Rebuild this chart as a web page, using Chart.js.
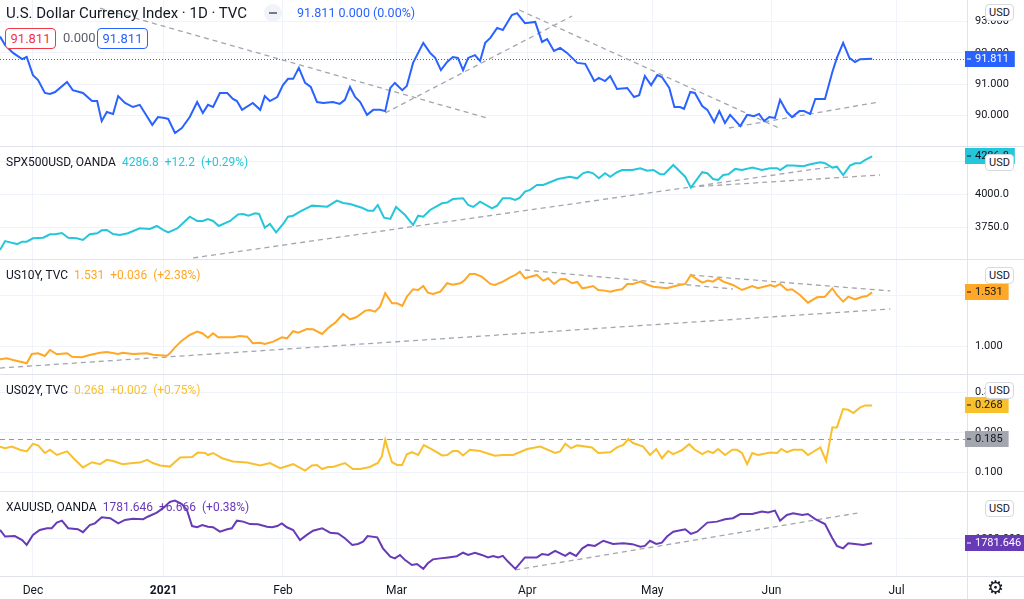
<!DOCTYPE html>
<html>
<head>
<meta charset="utf-8">
<script src="https://cdn.jsdelivr.net/npm/chart.js@4.4.1/dist/chart.umd.min.js"></script>
<style>
    html, body { margin: 0; padding: 0; background: #fff; }
    body { width: 1024px; height: 599px; position: relative; overflow: hidden; font-family: Roboto, "Noto Sans", sans-serif; color: #131722; }
    .pane { position: absolute; left: 0; width: 1024px; z-index: 1; }
    .sep { position: absolute; left: 0; width: 1024px; height: 1px; background: #e0e3eb; z-index: 0; }
    .vsep { position: absolute; left: 967px; top: 0; width: 1px; height: 599px; background: #e0e3eb; z-index: 0; }
    .legend { position: absolute; left: 6px; font-size: 12px; line-height: 16px; white-space: nowrap; z-index: 2; }
    .legend span { margin-left: 6px; }
    .usd { position: absolute; left: 985px; width: 27px; height: 15px; border: 1px solid #d6d9e0; border-radius: 4px; background: #fff; font-size: 11px; line-height: 15px; text-align: center; z-index: 2; }
    .box { position: absolute; top: 28px; height: 19px; width: 49px; border: 1px solid; border-radius: 4px; background: #fff; font-size: 13px; line-height: 19px; text-align: center; z-index: 2; }
    .btn { position: absolute; left: 264px; top: 4px; width: 18px; height: 18px; border-radius: 50%; background: #f0f3fa; z-index: 2; }
    .btn i { position: absolute; left: 5px; top: 8px; width: 8px; height: 2px; background: #787b86; }
    .gear { position: absolute; left: 987px; top: 577px; font-size: 19px; line-height: 20px; font-family: "DejaVu Sans", sans-serif; z-index: 2; }
</style>
</head>
<body>
<div class="vsep"></div>
<div class="sep" style="top:146px"></div>
<div class="sep" style="top:259px"></div>
<div class="sep" style="top:374px"></div>
<div class="sep" style="top:491px"></div>
<div class="sep" style="top:576px"></div>

<div class="pane" style="top:0;height:146px"><canvas id="dxyChart"></canvas></div>
<div class="pane" style="top:147px;height:112px"><canvas id="spxChart"></canvas></div>
<div class="pane" style="top:260px;height:114px"><canvas id="tnxChart"></canvas></div>
<div class="pane" style="top:375px;height:116px"><canvas id="twoChart"></canvas></div>
<div class="pane" style="top:492px;height:107px"><canvas id="xauChart"></canvas></div>

<div class="legend" style="top:4px;font-size:15px;line-height:18px">U.S. Dollar Currency Index · 1D · TVC</div>
<div class="btn"><i></i></div>
<div class="legend" style="left:297px;top:5px;font-size:12.5px;color:#2962ff">91.811 0.000 (0.00%)</div>
<div class="box" style="left:5px;border-color:#f23645;color:#f23645">91.811</div>
<div class="legend" style="left:63px;top:30px;font-size:13px;color:#5d606b">0.000</div>
<div class="box" style="left:97px;border-color:#2962ff;color:#2962ff">91.811</div>
<div class="usd" style="top:4px">USD</div>

<div class="legend" style="top:154px">SPX500USD, OANDA<span style="color:#26c6da">4286.8</span><span style="color:#26c6da">+12.2</span><span style="color:#26c6da">(+0.29%)</span></div>
<div class="usd" style="top:154px">USD</div>

<div class="legend" style="top:267px">US10Y, TVC<span style="color:#ffa726">1.531</span><span style="color:#ffa726">+0.036</span><span style="color:#ffa726">(+2.38%)</span></div>
<div class="usd" style="top:267px">USD</div>

<div class="legend" style="top:382px">US02Y, TVC<span style="color:#f9c02e">0.268</span><span style="color:#f9c02e">+0.002</span><span style="color:#f9c02e">(+0.75%)</span></div>
<div class="usd" style="top:382px">USD</div>

<div class="legend" style="top:499px">XAUUSD, OANDA<span style="color:#673ab7">1781.646</span><span style="color:#673ab7">+6.666</span><span style="color:#673ab7">(+0.38%)</span></div>
<div class="usd" style="top:500px">USD</div>

<div class="gear">⚙</div>

<script>
// бары считаются торговыми днями от 1 декабря 2020
const monthBars = [0, 23, 44, 64, 87, 109, 130, 152];
const monthLabels = ["Dec", "2021", "Feb", "Mar", "Apr", "May", "Jun", "Jul"];

const dxySeries = [[-5.8,92.52],[-4.9,92.25],[-3.5,92.00],[-1.9,91.80],[-1.1,91.87],[0,91.29],[0.9,91.13],[2.1,90.72],[3.0,90.69],[3.9,90.75],[6.0,91.07],[7.0,90.81],[8.8,90.72],[10.4,90.46],[11.3,90.46],[12.1,89.82],[13.0,90.11],[14.1,90.05],[15.0,90.62],[16.2,90.40],[17.6,90.27],[18.8,90.34],[21.0,89.70],[22.0,89.95],[23.2,89.92],[23.8,89.89],[25.0,89.44],[26.2,89.60],[27.6,89.95],[28.9,90.43],[29.9,90.08],[30.8,90.34],[31.7,90.27],[32.9,90.72],[34.2,90.72],[35.2,90.53],[35.9,90.46],[36.8,90.18],[38.7,90.40],[40.0,90.18],[40.8,90.62],[41.7,90.46],[43.0,90.59],[44.0,90.97],[44.9,91.17],[45.8,91.17],[46.8,91.52],[47.9,91.04],[48.9,90.91],[50.0,90.43],[51.1,90.40],[52.8,90.43],[54.0,90.37],[54.9,90.50],[55.8,90.91],[56.7,90.59],[57.6,90.43],[58.8,90.02],[59.9,90.18],[61.1,90.18],[62.0,90.14],[62.9,90.88],[63.7,91.04],[65.0,90.81],[65.8,90.94],[66.9,91.68],[68.7,92.32],[69.9,92.00],[70.8,91.84],[71.8,91.45],[72.9,91.71],[73.9,91.87],[74.8,91.84],[75.7,91.45],[76.6,91.84],[77.8,91.93],[78.7,91.74],[79.6,92.32],[80.5,92.48],[81.7,92.80],[82.7,92.73],[84.3,93.21],[85.2,93.27],[86.6,92.95],[88.4,92.99],[89.6,92.35],[90.5,92.44],[91.7,92.06],[92.8,92.16],[94.0,92.00],[95.8,91.68],[97.2,91.65],[98.8,91.10],[99.6,91.20],[100.7,91.10],[101.6,91.26],[102.8,90.85],[104.6,90.88],[105.8,90.59],[106.7,90.65],[107.7,91.26],[108.8,90.97],[109.9,91.29],[110.7,91.23],[112.0,90.88],[112.9,90.27],[113.9,90.27],[114.6,90.21],[115.7,90.75],[116.5,90.72],[117.8,90.30],[118.7,90.18],[119.9,89.79],[120.8,90.14],[121.8,89.76],[122.7,90.02],[124.5,89.66],[125.7,90.02],[126.9,89.98],[127.8,90.05],[128.7,89.82],[129.6,89.95],[130.6,89.92],[131.5,90.50],[132.7,90.11],[133.6,89.95],[134.9,90.14],[135.7,90.14],[136.8,90.05],[137.7,90.53],[139.4,90.53],[140.7,91.39],[141.5,91.84],[142.6,92.32],[143.7,91.84],[144.7,91.71],[145.6,91.80],[147.7,91.811]];
const dxyTrends = [
    [[11.8,93.43],[79.9,89.92]],
    [[62.0,90.08],[94.9,93.18]],
    [[85.6,93.37],[131.3,89.60]],
    [[122.5,89.60],[148.9,90.43]],
];
const dxyTicks = [90, 91, 92, 93];

const spxSeries = [[-5.8,3578],[-4.9,3646],[-4.0,3636],[-2.8,3623],[-1.9,3641],[-1.1,3641],[0,3667],[1.8,3671],[3.0,3697],[3.9,3697],[5.1,3707],[6.2,3671],[7.7,3667],[8.8,3654],[10.0,3697],[11.3,3705],[12.1,3727],[13.0,3730],[14.1,3699],[15.3,3692],[16.7,3705],[18.8,3742],[20.6,3737],[21.8,3760],[22.9,3730],[23.8,3712],[25.4,3742],[27.6,3830],[28.9,3798],[29.9,3798],[30.8,3813],[31.7,3798],[32.7,3760],[34.7,3798],[36.1,3848],[37.0,3851],[37.9,3838],[39.1,3856],[39.8,3851],[40.8,3747],[41.7,3775],[42.8,3712],[44.0,3773],[44.9,3830],[45.8,3838],[47.0,3868],[49.1,3914],[51.8,3906],[53.5,3952],[54.6,3934],[55.8,3927],[57.9,3898],[59.0,3876],[59.9,3876],[60.7,3919],[61.8,3823],[62.9,3813],[63.9,3904],[65.5,3843],[66.9,3767],[67.8,3838],[68.7,3830],[69.9,3881],[72.0,3932],[72.9,3937],[73.9,3964],[75.7,3970],[76.6,3919],[77.5,3904],[78.7,3944],[80.8,3894],[81.7,3914],[82.7,3970],[84.0,3970],[84.9,3957],[85.7,3974],[86.6,4020],[87.5,4033],[88.7,4070],[89.8,4070],[91.0,4091],[92.4,4116],[94.5,4133],[95.8,4121],[96.8,4159],[97.7,4171],[98.6,4159],[99.6,4121],[100.7,4159],[101.6,4133],[102.8,4167],[103.7,4184],[105.5,4184],[106.9,4197],[108.1,4179],[109.2,4184],[110.4,4152],[111.1,4152],[112.7,4222],[114.8,4133],[115.8,4050],[117.8,4167],[118.7,4159],[119.7,4116],[120.6,4108],[121.5,4146],[122.4,4152],[123.6,4192],[124.8,4184],[126.6,4202],[128.3,4184],[129.7,4197],[131.0,4197],[131.5,4184],[132.7,4217],[133.8,4217],[135.6,4212],[136.8,4227],[138.6,4242],[139.4,4235],[140.7,4202],[141.5,4209],[142.6,4146],[143.8,4217],[144.7,4235],[145.6,4235],[146.5,4260],[147.7,4286.8]];
const spxTrends = [
    [[28.2,3518],[115.7,4055]],
    [[115.7,4055],[149.1,4146]],
    [[115.7,4055],[140.3,4207]],
];
const spxTicks = [3750, 4000, 4250];

const tnxSeries = [[-5.8,0.868],[-4.6,0.878],[-3.5,0.861],[-1.1,0.829],[-0.2,0.921],[0.9,0.928],[2.1,0.901],[3.0,0.961],[4.2,0.918],[6.0,0.928],[6.9,0.894],[8.6,0.888],[10.0,0.911],[11.8,0.934],[13.0,0.941],[15.0,0.921],[15.8,0.934],[17.6,0.921],[20.1,0.928],[21.1,0.914],[23.6,0.904],[24.1,0.928],[25.0,0.987],[26.2,1.053],[27.6,1.109],[28.9,1.142],[29.8,1.126],[30.8,1.082],[31.7,1.126],[32.6,1.086],[35.2,1.086],[36.4,1.099],[37.7,1.092],[38.7,1.027],[40.0,1.033],[40.8,1.020],[42.3,1.043],[43.8,1.086],[44.7,1.076],[45.8,1.146],[46.7,1.132],[48.2,1.168],[49.3,1.165],[50.9,1.119],[51.9,1.175],[53.2,1.231],[54.6,1.317],[55.8,1.264],[56.9,1.284],[58.5,1.350],[59.3,1.356],[60.2,1.340],[61.1,1.389],[62.0,1.522],[63.2,1.423],[64.1,1.423],[65.0,1.396],[65.8,1.488],[66.9,1.561],[67.8,1.554],[68.7,1.594],[69.5,1.528],[70.4,1.515],[71.7,1.538],[72.9,1.621],[73.9,1.607],[75.2,1.621],[76.0,1.653],[76.9,1.713],[77.8,1.713],[79.0,1.686],[80.5,1.614],[81.3,1.604],[82.7,1.637],[84.0,1.680],[84.9,1.703],[85.7,1.736],[86.6,1.670],[88.7,1.703],[89.8,1.647],[90.7,1.670],[91.7,1.614],[92.8,1.660],[93.7,1.663],[94.9,1.621],[95.8,1.634],[96.7,1.571],[97.7,1.581],[98.6,1.594],[99.5,1.554],[100.7,1.548],[101.6,1.538],[102.8,1.554],[103.7,1.561],[104.6,1.614],[105.6,1.614],[106.9,1.637],[108.3,1.604],[109.2,1.587],[111.6,1.571],[113.0,1.594],[114.8,1.614],[115.8,1.703],[116.9,1.660],[117.8,1.627],[118.8,1.647],[119.7,1.637],[120.6,1.670],[121.5,1.637],[123.2,1.604],[124.8,1.554],[126.6,1.594],[127.6,1.571],[129.8,1.604],[130.6,1.587],[131.5,1.614],[132.7,1.554],[133.6,1.561],[135.0,1.505],[136.4,1.429],[138.0,1.482],[139.4,1.488],[140.7,1.571],[141.5,1.505],[142.6,1.439],[143.5,1.488],[144.7,1.462],[146.0,1.488],[146.8,1.495],[147.7,1.531]];
const tnxTrends = [
    [[-5.8,0.782],[150.9,1.366]],
    [[86.6,1.752],[123.2,1.564]],
    [[115.7,1.703],[150.9,1.545]],
];
const tnxTicks = [1.0, 1.5];

const twoSeries = [[-5.8,0.165],[-4.9,0.161],[-3.7,0.165],[-2.3,0.157],[-1.1,0.153],[0,0.172],[0.9,0.168],[2.1,0.149],[3.0,0.157],[4.2,0.144],[6.0,0.153],[7.4,0.132],[8.8,0.113],[10.4,0.126],[11.8,0.121],[13.0,0.132],[14.1,0.129],[15.8,0.121],[17.6,0.124],[18.8,0.125],[20.1,0.132],[21.1,0.124],[22.4,0.118],[24.1,0.115],[25.9,0.138],[28.0,0.139],[29.0,0.150],[30.3,0.149],[30.8,0.144],[31.7,0.149],[33.3,0.136],[35.2,0.128],[37.7,0.125],[40.0,0.118],[41.7,0.124],[43.5,0.111],[45.8,0.121],[47.9,0.105],[49.1,0.118],[50.0,0.119],[50.9,0.109],[51.9,0.114],[52.8,0.114],[54.9,0.124],[56.3,0.109],[57.6,0.109],[59.3,0.114],[60.7,0.124],[61.4,0.140],[62.0,0.182],[62.5,0.157],[63.2,0.126],[64.1,0.119],[65.0,0.119],[65.8,0.146],[66.7,0.151],[67.8,0.144],[68.8,0.169],[70.4,0.157],[72.0,0.143],[72.9,0.144],[73.9,0.154],[74.8,0.154],[75.7,0.143],[76.9,0.157],[78.7,0.154],[81.3,0.142],[82.7,0.144],[84.5,0.144],[87.0,0.159],[89.3,0.165],[91.9,0.149],[92.8,0.153],[93.7,0.172],[94.7,0.161],[95.8,0.168],[98.4,0.163],[99.5,0.149],[101.6,0.151],[102.8,0.163],[103.9,0.169],[104.8,0.184],[105.6,0.174],[107.4,0.165],[108.6,0.144],[109.7,0.159],[110.7,0.136],[111.8,0.154],[112.7,0.146],[114.3,0.157],[115.5,0.171],[116.5,0.157],[117.8,0.146],[118.8,0.154],[119.7,0.149],[120.6,0.159],[121.8,0.144],[123.1,0.157],[123.9,0.157],[124.8,0.149],[125.7,0.121],[126.6,0.149],[127.6,0.144],[129.8,0.150],[131.0,0.149],[131.7,0.159],[132.7,0.151],[133.8,0.157],[135.4,0.157],[136.4,0.144],[138.6,0.163],[139.6,0.129],[140.7,0.213],[141.5,0.213],[142.6,0.259],[143.5,0.257],[144.4,0.249],[145.6,0.263],[146.5,0.268],[147.7,0.268]];
const twoLevel = 0.185;
const twoTicks = [0.1, 0.2, 0.3];

const xauSeries = [[-5.8,1836],[-4.9,1809],[-3.2,1811],[-1.9,1795],[-1.1,1775],[0,1816],[1.2,1836],[2.5,1843],[3.3,1843],[4.2,1866],[5.1,1874],[6.2,1843],[7.9,1839],[8.8,1827],[10.0,1856],[10.9,1863],[12.1,1888],[13.6,1884],[15.0,1863],[16.2,1877],[17.6,1882],[19.4,1880],[20.2,1890],[21.8,1907],[22.9,1925],[24.1,1951],[25.0,1956],[26.2,1942],[27.1,1918],[28.0,1852],[28.9,1847],[29.8,1856],[30.8,1849],[31.7,1847],[32.9,1829],[34.2,1839],[35.0,1843],[35.9,1874],[37.0,1870],[38.2,1860],[39.6,1859],[41.2,1849],[42.1,1847],[43.0,1852],[43.8,1863],[44.7,1847],[45.8,1836],[47.0,1795],[48.2,1816],[49.3,1833],[50.9,1843],[52.3,1825],[53.7,1822],[54.9,1802],[56.2,1775],[57.2,1779],[58.1,1788],[58.9,1811],[60.6,1806],[61.6,1761],[62.9,1727],[63.7,1720],[64.6,1734],[65.5,1713],[66.7,1693],[67.6,1697],[68.7,1677],[69.5,1700],[70.4,1716],[71.7,1720],[73.1,1724],[74.6,1729],[75.7,1743],[76.6,1734],[77.8,1743],[79.0,1734],[80.1,1724],[81.0,1730],[81.9,1724],[82.7,1730],[83.6,1707],[84.9,1677],[86.6,1724],[88.7,1724],[89.6,1738],[90.7,1734],[91.9,1751],[93.7,1730],[94.5,1743],[95.6,1730],[96.7,1761],[97.7,1775],[98.9,1771],[100.4,1792],[102.1,1779],[103.9,1782],[105.5,1778],[106.9,1768],[107.7,1771],[108.6,1792],[109.7,1779],[110.7,1784],[111.6,1809],[112.7,1829],[114.8,1839],[115.8,1820],[116.9,1829],[118.7,1866],[120.4,1870],[121.8,1880],[123.2,1884],[124.5,1901],[126.6,1901],[128.3,1911],[129.4,1907],[130.6,1915],[131.5,1874],[132.7,1897],[133.8,1904],[135.4,1897],[136.4,1901],[137.7,1880],[139.4,1860],[140.7,1802],[141.5,1771],[142.6,1761],[143.5,1782],[144.7,1779],[146.1,1775],[147.7,1781.646]];
const xauTrends = [
    [[84.9,1673],[145.1,1905]],
];
const xauTicks = [1800];

const FONT = 'Roboto, "Noto Sans", sans-serif';
const GRID = "#f0f3fa";
const TREND = "#a3a6af";
Chart.defaults.font.family = FONT;
Chart.defaults.color = "#131722";

const last = (s) => s[s.length - 1][1];

// ценовые метки на правой шкале и горизонтальные линии уровня
const priceTags = {
    id: "priceTags",
    beforeDatasetsDraw(chart, args, opts) {
        const { ctx, chartArea, scales } = chart;
        (opts.lines || []).forEach((l) => {
            const py = Math.round(scales.y.getPixelForValue(l.value)) + 0.5;
            ctx.save();
            ctx.strokeStyle = l.color;
            ctx.lineWidth = 1;
            ctx.setLineDash(l.dash);
            ctx.beginPath();
            ctx.moveTo(chartArea.left, py);
            ctx.lineTo(chartArea.right, py);
            ctx.stroke();
            ctx.restore();
        });
    },
    afterDraw(chart, args, opts) {
        const { ctx, chartArea, scales } = chart;
        (opts.tags || []).forEach((t) => {
            const py = Math.round(scales.y.getPixelForValue(t.value));
            const text = t.value.toFixed(t.dec);
            ctx.save();
            ctx.font = "11px " + FONT;
            const w = ctx.measureText(text).width;
            ctx.fillStyle = t.bg;
            ctx.fillRect(chartArea.right - 2, py - 8, w + 16, 16);
            ctx.fillStyle = t.fg;
            ctx.fillRect(chartArea.right, py - 0.5, 4, 1);
            ctx.textBaseline = "middle";
            ctx.fillText(text, chartArea.right + 8, py);
            ctx.restore();
        });
    },
};

function makePane(id, cfg) {
    const datasets = [
        {
            data: cfg.series,
            borderColor: cfg.color,
            borderWidth: 2,
            pointRadius: 0,
            tension: 0,
        },
    ];
    cfg.trends.forEach((t) => {
        datasets.push({
            data: t,
            borderColor: TREND,
            borderWidth: 1.3,
            borderDash: [5, 4],
            pointRadius: 0,
        });
    });

    return new Chart(document.getElementById(id), {
        type: "line",
        data: { datasets: datasets },
        options: {
            responsive: true,
            maintainAspectRatio: false,
            animation: false,
            events: [],
            layout: { padding: 0, autoPadding: false },
            plugins: {
                legend: { display: false },
                tooltip: { enabled: false },
                priceTags: { lines: cfg.lines || [], tags: cfg.tags || [] },
            },
            scales: {
                x: {
                    type: "linear",
                    min: -5.8,
                    max: 164.4,
                    afterBuildTicks: (s) => {
                        s.ticks = monthBars.map((v) => ({ value: v }));
                    },
                    afterFit: (s) => {
                        s.height = cfg.timeAxis ? 23 : 0;
                        s.paddingLeft = 0;
                        s.paddingRight = 0;
                    },
                    ticks: {
                        display: !!cfg.timeAxis,
                        autoSkip: false,
                        maxRotation: 0,
                        padding: 8,
                        color: "#131722",
                        font: (c) => ({
                            size: 12,
                            weight: c.tick && c.tick.label === "2021" ? "bold" : "normal",
                        }),
                        callback: (v) => monthLabels[monthBars.indexOf(v)],
                    },
                    grid: { color: GRID, drawTicks: false },
                    border: { display: false },
                },
                y: {
                    position: "right",
                    min: cfg.min,
                    max: cfg.max,
                    afterBuildTicks: (s) => {
                        s.ticks = cfg.ticks.map((v) => ({ value: v }));
                    },
                    afterFit: (s) => {
                        s.width = 57;
                        s.paddingTop = 0;
                        s.paddingBottom = 0;
                    },
                    ticks: {
                        padding: 8,
                        color: "#131722",
                        font: { size: 11 },
                        callback: (v) => Number(v).toFixed(cfg.dec),
                    },
                    grid: { color: GRID, drawTicks: false },
                    border: { display: false },
                },
            },
        },
        plugins: [priceTags],
    });
}

makePane("dxyChart", {
    series: dxySeries, trends: dxyTrends, color: "#2962ff",
    min: 89.025, max: 93.69, ticks: dxyTicks, dec: 3,
    lines: [{ value: last(dxySeries), color: "#2962ff", dash: [1, 2] }],
    tags: [{ value: last(dxySeries), bg: "#2962ff", fg: "#ffffff", dec: 3 }],
});
makePane("spxChart", {
    series: spxSeries, trends: spxTrends, color: "#26c6da",
    min: 3510, max: 4358, ticks: spxTicks, dec: 1,
    tags: [{ value: last(spxSeries), bg: "#26c6da", fg: "#131722", dec: 1 }],
});
makePane("tnxChart", {
    series: tnxSeries, trends: tnxTrends, color: "#ffa726",
    min: 0.723, max: 1.851, ticks: tnxTicks, dec: 3,
    tags: [{ value: last(tnxSeries), bg: "#ffa726", fg: "#131722", dec: 3 }],
});
makePane("twoChart", {
    series: twoSeries, trends: [], color: "#f9c02e",
    min: 0.054, max: 0.344, ticks: twoTicks, dec: 3,
    lines: [{ value: twoLevel, color: "#9598a1", dash: [5, 4] }],
    tags: [
        { value: last(twoSeries), bg: "#f9c02e", fg: "#131722", dec: 3 },
        { value: twoLevel, bg: "#a3a6af", fg: "#131722", dec: 3 },
    ],
});
makePane("xauChart", {
    series: xauSeries, trends: xauTrends, color: "#673ab7",
    min: 1648, max: 1991, ticks: xauTicks, dec: 3, timeAxis: true,
    tags: [{ value: last(xauSeries), bg: "#673ab7", fg: "#ffffff", dec: 3 }],
});
</script>
</body>
</html>
